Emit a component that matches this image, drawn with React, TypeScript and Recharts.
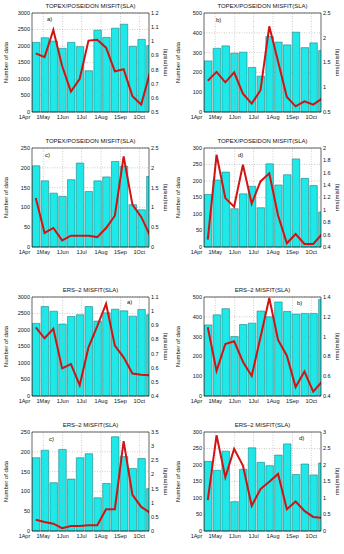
import { ComposedChart, Bar, Line, XAxis, YAxis, CartesianGrid, ReferenceLine } from 'recharts'

// centre day (counted from 1 Apr) of each 14-day bin
const binDays = [18, 32, 46, 60, 74, 88, 102, 116, 130, 144, 158, 172, 186, 200]
const monthTicks = [0, 30, 61, 91, 122, 153, 183]
const monthLabels = ['1Apr', '1May', '1Jun', '1Jul', '1Aug', '1Sep', '1Oct']

const tpTitle = 'TOPEX/POSEIDON MISFIT(SLA)'
const ersTitle = 'ERS\u20132 MISFIT(SLA)'

const tpACount = [2110, 2250, 2150, 1930, 2110, 1980, 1250, 2480, 2260, 2540, 2660, 1990, 2200, 2010]
const tpARms = [0.915, 0.888, 1.08, 0.825, 0.645, 0.735, 1.005, 1.01, 0.955, 0.787, 0.802, 0.612, 0.553, 0.78]
const tpBCount = [258, 322, 334, 297, 302, 225, 181, 381, 353, 339, 403, 325, 349, 310]
const tpBRms = [1.13, 1.31, 1.1, 1.3, 0.87, 0.67, 0.94, 2.23, 1.52, 0.805, 0.615, 0.717, 0.65, 0.77]
const tpCCount = [205, 167, 136, 128, 170, 212, 140, 167, 177, 216, 204, 107, 94, 178]
const tpCRms = [1.24, 0.354, 0.48, 0.168, 0.286, 0.286, 0.286, 0.25, 0.48, 0.79, 2.29, 1.07, 0.76, 0.29]
const tpDCount = [159, 203, 227, 116, 161, 184, 119, 252, 188, 219, 267, 208, 186, 106]
const tpDRms = [0.52, 1.89, 1.19, 1.05, 1.73, 1.1, 1.46, 1.59, 0.91, 0.46, 0.61, 0.45, 0.45, 0.61]

const ersACount = [2200, 2710, 2570, 2180, 2410, 2460, 2710, 2270, 2520, 2630, 2580, 2420, 2620, 2460]
const ersARms = [0.886, 0.808, 0.875, 0.595, 0.625, 0.476, 0.744, 0.894, 1.052, 0.756, 0.673, 0.559, 0.55, 0.547]
const ersBCount = [359, 410, 441, 300, 361, 368, 429, 400, 475, 427, 414, 417, 417, 488]
const ersBRms = [1.095, 0.654, 0.925, 0.953, 0.746, 0.603, 0.993, 1.39, 0.966, 0.807, 0.49, 0.647, 0.444, 0.546]
const ersCCount = [185, 204, 122, 206, 131, 185, 195, 84, 120, 238, 188, 158, 183, 107]
const ersCRms = [0.395, 0.32, 0.26, 0.1, 0.18, 0.18, 0.2, 0.2, 0.77, 0.77, 3.18, 1.28, 0.85, 0.65]
const ersDCount = [211, 184, 242, 89, 187, 252, 208, 198, 230, 264, 171, 203, 170, 206]
const ersDRms = [0.936, 2.9, 1.63, 2.49, 1.98, 0.763, 1.27, 1.49, 1.73, 0.66, 0.895, 0.61, 0.427, 0.4]

const count3000 = [0, 500, 1000, 1500, 2000, 2500, 3000]
const count500 = [0, 100, 200, 300, 400, 500]
const count250 = [0, 50, 100, 150, 200, 250]
const count300 = [0, 50, 100, 150, 200, 250, 300]

const rmsTpA = [0.5, 0.6, 0.7, 0.8, 0.9, 1, 1.1, 1.2]
const rmsTpB = [0.5, 1, 1.5, 2, 2.5]
const rmsTpC = [0, 0.5, 1, 1.5, 2, 2.5]
const rmsTpD = [0.4, 0.6, 0.8, 1, 1.2, 1.4, 1.6, 1.8, 2]
const rmsErsA = [0.4, 0.5, 0.6, 0.7, 0.8, 0.9, 1, 1.1]
const rmsErsB = [0.4, 0.6, 0.8, 1, 1.2, 1.4]
const rmsErsC = [0, 0.5, 1, 1.5, 2, 2.5, 3, 3.5]
const rmsErsD = [0, 0.5, 1, 1.5, 2, 2.5, 3]

const W = 172
const H = 130
const FONT = '"Liberation Sans", Arial, sans-serif'
const tickStyle = { fontSize: 5.5, fill: '#111', fontFamily: FONT }

function SideLabel({ viewBox, value, side }: any) {
  if (!viewBox) return null
  const cx = side === 'left' ? viewBox.x + 8.3 : viewBox.x + 17.5
  const cy = viewBox.y + viewBox.height / 2
  return (
    <text x={cx} y={cy} transform={`rotate(-90 ${cx} ${cy})`} textAnchor="middle"
      fontSize={6} fill="#111" fontFamily={FONT}>
      {value}
    </text>
  )
}

const fmt = (v: number) => String(Number(v.toFixed(1)))

interface PanelProps {
  left: number
  top: number
  title: string
  tag: string
  tagX: number
  tagY: number
  counts: number[]
  rms: number[]
  countTicks: number[]
  rmsTicks: number[]
}

function Panel({ left, top, title, tag, tagX, tagY, counts, rms, countTicks, rmsTicks }: PanelProps) {
  const data = binDays.map((d, i) => ({ day: d, count: counts[i], rms: rms[i] }))
  const cMax = countTicks[countTicks.length - 1]
  return (
    <div style={{ position: 'absolute', left, top, width: W, height: H }}>
      <div style={{ position: 'absolute', left: 32, width: 117, top: 2, textAlign: 'center',
        fontSize: 6, lineHeight: '8px', color: '#111', fontFamily: FONT, whiteSpace: 'nowrap' }}>
        {title}
      </div>
      <ComposedChart width={W} height={H} data={data} margin={{ top: 13, right: 0, bottom: 0, left: 0 }}>
        <CartesianGrid yAxisId="left" vertical={false} stroke="#9a9a9a" strokeWidth={0.5} strokeDasharray="1 1.5" />
        {monthTicks.map(t => (
          <ReferenceLine key={t} x={t} yAxisId="left" stroke="#9a9a9a" strokeWidth={0.5} strokeDasharray="1 1.5" />
        ))}
        <XAxis dataKey="day" type="number" domain={[12, 198.4]} allowDataOverflow ticks={monthTicks}
          interval={0} tickFormatter={(v: number) => monthLabels[monthTicks.indexOf(v)]}
          tick={tickStyle} tickLine={false} tickSize={0} tickMargin={3.5} height={18}
          axisLine={{ stroke: '#000', strokeWidth: 0.6 }} />
        <YAxis yAxisId="left" type="number" domain={[0, cMax]} ticks={countTicks} interval={0}
          width={32} tick={tickStyle} tickLine={false} tickSize={0} tickMargin={2}
          axisLine={{ stroke: '#000', strokeWidth: 0.6 }}
          label={<SideLabel value="Number of data" side="left" />} />
        <YAxis yAxisId="right" orientation="right" type="number"
          domain={[rmsTicks[0], rmsTicks[rmsTicks.length - 1]]} ticks={rmsTicks} interval={0}
          allowDataOverflow width={23} tick={tickStyle} tickLine={false} tickSize={0} tickMargin={2}
          tickFormatter={fmt} axisLine={{ stroke: '#000', strokeWidth: 0.6 }}
          label={<SideLabel value="rms(misfit)" side="right" />} />
        <ReferenceLine y={cMax} yAxisId="left" stroke="#000" strokeWidth={0.6} />
        <Bar yAxisId="left" dataKey="count" barSize={7.5} fill="#1ee8e8" stroke="#217f7f"
          strokeWidth={0.6} isAnimationActive={false} />
        <Line yAxisId="right" dataKey="rms" type="linear" stroke="#d01414" strokeWidth={2}
          dot={false} isAnimationActive={false} />
      </ComposedChart>
      <div style={{ position: 'absolute', left: tagX, top: tagY - 4, fontSize: 6, lineHeight: '8px',
        color: '#111', fontFamily: FONT }}>
        {tag}
      </div>
    </div>
  )
}

export default function App() {
  return (
    <div style={{ position: 'absolute', left: 0, top: 0, width: 344, height: 554, background: '#fff' }}>
      <Panel left={0} top={0} title={tpTitle} tag="a)" tagX={47} tagY={19}
        counts={tpACount} rms={tpARms} countTicks={count3000} rmsTicks={rmsTpA} />
      <Panel left={172} top={0} title={tpTitle} tag="b)" tagX={44} tagY={20}
        counts={tpBCount} rms={tpBRms} countTicks={count500} rmsTicks={rmsTpB} />
      <Panel left={0} top={135} title={tpTitle} tag="c)" tagX={45} tagY={20}
        counts={tpCCount} rms={tpCRms} countTicks={count250} rmsTicks={rmsTpC} />
      <Panel left={172} top={135} title={tpTitle} tag="d)" tagX={66} tagY={20}
        counts={tpDCount} rms={tpDRms} countTicks={count300} rmsTicks={rmsTpD} />
      <Panel left={0} top={284} title={ersTitle} tag="a)" tagX={127} tagY={18}
        counts={ersACount} rms={ersARms} countTicks={count3000} rmsTicks={rmsErsA} />
      <Panel left={172} top={284} title={ersTitle} tag="b)" tagX={125} tagY={19}
        counts={ersBCount} rms={ersBRms} countTicks={count500} rmsTicks={rmsErsB} />
      <Panel left={0} top={419} title={ersTitle} tag="c)" tagX={49} tagY={20}
        counts={ersCCount} rms={ersCRms} countTicks={count250} rmsTicks={rmsErsC} />
      <Panel left={172} top={419} title={ersTitle} tag="d)" tagX={127} tagY={19}
        counts={ersDCount} rms={ersDRms} countTicks={count300} rmsTicks={rmsErsD} />
    </div>
  )
}
